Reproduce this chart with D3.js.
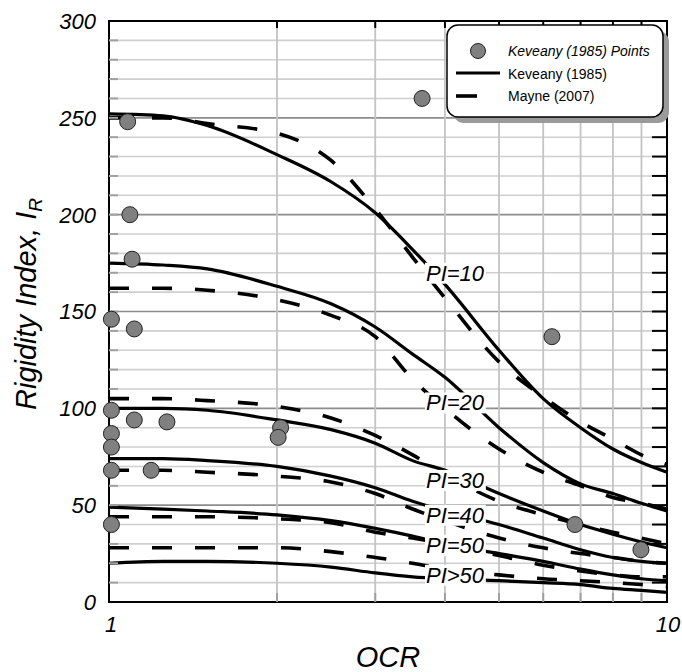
<!DOCTYPE html>
<html>
<head>
<meta charset="utf-8">
<script src="https://cdn.jsdelivr.net/npm/d3@7"></script>
<style>
  body { margin: 0; background: #fff; }
  text { font-family: Arial, "Liberation Sans", sans-serif; }
</style>
</head>
<body>
<script>
(function() {

    // data
    var ocr = [1, 1.25, 1.5, 2, 2.5, 3, 3.5, 4, 5, 6, 7, 8, 9, 10];

    var piNames = ['PI=10', 'PI=20', 'PI=30', 'PI=40', 'PI=50', 'PI>50'];

    var keveany10 = [252, 251, 246, 231, 217, 201, 182, 164, 130, 105, 90, 79, 72, 67];
    var keveany20 = [175, 174, 172, 163, 154, 142, 128, 116, 90, 72, 61, 56, 51, 47];
    var keveany30 = [100, 100, 99, 94, 89, 82, 73, 68, 56, 47, 40, 35, 31, 28];
    var keveany40 = [74, 74, 73, 70, 65, 59, 52, 47, 40, 33, 27, 23, 21, 20];
    var keveany50 = [49, 48, 47, 45, 42, 38, 34, 30, 25, 21, 17, 14, 12, 11];
    var keveany60 = [20, 21, 21, 20, 18, 15, 13, 12, 11, 10, 9, 7, 6, 5];

    var mayne10 = [250, 250, 247, 242, 228, 203, 178, 157, 124, 106, 93, 84, 76, 71];
    var mayne20 = [162, 162, 161, 156, 148, 137, 115, 100, 79, 67, 60, 54, 51, 48];
    var mayne30 = [105, 105, 104, 101, 95, 86, 76, 66, 52, 45, 40, 36, 33, 30];
    var mayne40 = [68, 68, 67, 65, 62, 56, 48, 42, 33, 28, 25, 23, 21, 20];
    var mayne50 = [44, 44, 44, 43, 41, 36, 33, 30, 24, 19, 16, 14, 13, 13];
    var mayne60 = [28, 28, 28, 28, 26, 23, 20, 17, 14, 12, 11, 10, 9, 8];

    // Keveany (1985) measured points
    var pointOcr = [1.08, 1.09, 1.10, 1.01, 1.11, 1.01, 1.11, 1.27, 1.01, 2.03, 2.01, 1.01, 1.01, 1.19, 1.01, 3.64, 6.22, 6.84, 8.98];
    var pointIr = [248, 200, 177, 146, 141, 99, 94, 93, 87, 90, 85, 80, 68, 68, 40, 260, 137, 40, 27];

    // where the PI labels sit
    var labelOcr = [4.17, 4.17, 4.17, 4.17, 4.17, 4.17];
    var labelIr = [170, 103, 63, 45, 29.5, 14];

    var yTicks = [0, 50, 100, 150, 200, 250, 300];
    var xTicks = [1, 10];

    var keveany = [keveany10, keveany20, keveany30, keveany40, keveany50, keveany60];
    var mayne = [mayne10, mayne20, mayne30, mayne40, mayne50, mayne60];

    var W = 682, H = 672;
    var left = 109, right = 667, top = 21, bottom = 602;

    var svg = d3.select('body').append('svg')
        .attr('width', W)
        .attr('height', H);

    var x = d3.scaleLog().domain([1, 10]).range([left, right]);
    var y = d3.scaleLinear().domain([0, 300]).range([bottom, top]);

    // grid: every 10 light, every 50 darker
    var minorY = d3.range(10, 300, 10);
    svg.append('g').selectAll('line')
        .data(minorY)
        .enter().append('line')
        .attr('x1', left).attr('x2', right)
        .attr('y1', function(d) { return y(d); })
        .attr('y2', function(d) { return y(d); })
        .attr('stroke', function(d) { return d % 50 === 0 ? '#8c8c8c' : '#cfcfcf'; })
        .attr('stroke-width', 1.6);

    var minorX = d3.range(2, 10);
    svg.append('g').selectAll('line')
        .data(minorX)
        .enter().append('line')
        .attr('y1', top).attr('y2', bottom)
        .attr('x1', function(d) { return x(d); })
        .attr('x2', function(d) { return x(d); })
        .attr('stroke', '#c4c4c4')
        .attr('stroke-width', 1.8);

    var line = d3.line()
        .x(function(d) { return x(d[0]); })
        .y(function(d) { return y(d[1]); })
        .curve(d3.curveMonotoneX);

    function pairs(vals) {
        return ocr.map(function(o, i) { return [o, vals[i]]; });
    }

    // Mayne (2007) dashed curves
    svg.append('g').selectAll('path')
        .data(mayne)
        .enter().append('path')
        .attr('d', function(d) { return line(pairs(d)); })
        .attr('fill', 'none')
        .attr('stroke', '#000')
        .attr('stroke-width', 3.6)
        .attr('stroke-dasharray', '20,23');

    // Keveany (1985) solid curves
    svg.append('g').selectAll('path')
        .data(keveany)
        .enter().append('path')
        .attr('d', function(d) { return line(pairs(d)); })
        .attr('fill', 'none')
        .attr('stroke', '#000')
        .attr('stroke-width', 3.2);

    // PI labels with white boxes
    var labels = svg.append('g').selectAll('g')
        .data(piNames)
        .enter().append('g');

    labels.append('rect').attr('fill', '#fff');

    labels.append('text')
        .attr('x', function(d, i) { return x(labelOcr[i]); })
        .attr('y', function(d, i) { return y(labelIr[i]); })
        .attr('dy', '0.36em')
        .attr('text-anchor', 'middle')
        .attr('font-size', 22)
        .attr('font-style', 'italic')
        .text(function(d) { return d; });

    labels.each(function() {
        var g = d3.select(this);
        var b = g.select('text').node().getBBox();
        g.select('rect')
            .attr('x', b.x - 1).attr('y', b.y + 2)
            .attr('width', b.width + 2).attr('height', b.height - 4);
    });

    // frame
    svg.append('rect')
        .attr('x', left).attr('y', top)
        .attr('width', right - left).attr('height', bottom - top)
        .attr('fill', 'none')
        .attr('stroke', '#000')
        .attr('stroke-width', 2);

    // ticks: right side black every 10, left side grey
    svg.append('g').selectAll('line')
        .data(minorY)
        .enter().append('line')
        .attr('x1', right - 15).attr('x2', right)
        .attr('y1', function(d) { return y(d); })
        .attr('y2', function(d) { return y(d); })
        .attr('stroke', '#000')
        .attr('stroke-width', 2);

    svg.append('g').selectAll('line')
        .data(minorY)
        .enter().append('line')
        .attr('x1', left).attr('x2', left + 9)
        .attr('y1', function(d) { return y(d); })
        .attr('y2', function(d) { return y(d); })
        .attr('stroke', '#a0a0a0')
        .attr('stroke-width', 2);

    svg.append('g').selectAll('line')
        .data(minorX)
        .enter().append('line')
        .attr('x1', function(d) { return x(d); })
        .attr('x2', function(d) { return x(d); })
        .attr('y1', top).attr('y2', top + 7)
        .attr('stroke', '#000')
        .attr('stroke-width', 2);

    svg.append('g').selectAll('line')
        .data(minorX)
        .enter().append('line')
        .attr('x1', function(d) { return x(d); })
        .attr('x2', function(d) { return x(d); })
        .attr('y1', bottom - 9).attr('y2', bottom)
        .attr('stroke', '#a0a0a0')
        .attr('stroke-width', 2);

    // points
    svg.append('g').selectAll('circle')
        .data(pointOcr)
        .enter().append('circle')
        .attr('cx', function(d) { return x(d); })
        .attr('cy', function(d, i) { return y(pointIr[i]); })
        .attr('r', 8)
        .attr('fill', '#808080')
        .attr('stroke', '#222')
        .attr('stroke-width', 1);

    // tick labels
    svg.append('g').selectAll('text')
        .data(yTicks)
        .enter().append('text')
        .attr('x', 96)
        .attr('y', function(d) { return y(d); })
        .attr('dy', '0.36em')
        .attr('text-anchor', 'end')
        .attr('font-size', 22)
        .attr('font-style', 'italic')
        .text(function(d) { return d; });

    svg.append('g').selectAll('text')
        .data(xTicks)
        .enter().append('text')
        .attr('x', function(d, i) { return x(d) + (i === 0 ? 2 : 1); })
        .attr('y', 632)
        .attr('text-anchor', 'middle')
        .attr('font-size', 22)
        .attr('font-style', 'italic')
        .text(function(d) { return d; });

    // axis titles
    svg.append('text')
        .attr('x', (left + right) / 2)
        .attr('y', 667)
        .attr('text-anchor', 'middle')
        .attr('font-size', 29)
        .attr('font-style', 'italic')
        .text('OCR');

    var yTitle = svg.append('text')
        .attr('transform', 'translate(36,' + 304 + ') rotate(-90)')
        .attr('text-anchor', 'middle')
        .attr('font-size', 29)
        .attr('font-style', 'italic');
    yTitle.append('tspan').text('Rigidity Index, I');
    yTitle.append('tspan').attr('font-size', 19).attr('dy', 6).text('R');

    // legend with shadow
    var lg = svg.append('g').attr('transform', 'translate(447,25)');
    lg.append('rect')
        .attr('x', 6).attr('y', 6)
        .attr('width', 216).attr('height', 92)
        .attr('rx', 11)
        .attr('fill', '#9a9a9a');
    lg.append('rect')
        .attr('width', 216).attr('height', 92)
        .attr('rx', 11)
        .attr('fill', '#fff')
        .attr('stroke', '#000')
        .attr('stroke-width', 1.5);

    lg.append('circle')
        .attr('cx', 31).attr('cy', 26).attr('r', 7.5)
        .attr('fill', '#808080').attr('stroke', '#222');
    lg.append('line')
        .attr('x1', 9).attr('x2', 53).attr('y1', 48).attr('y2', 48)
        .attr('stroke', '#000').attr('stroke-width', 3.2);
    lg.append('line')
        .attr('x1', 9).attr('x2', 30).attr('y1', 71).attr('y2', 71)
        .attr('stroke', '#000').attr('stroke-width', 3.6);

    var legendText = ['Keveany (1985) Points', 'Keveany (1985)', 'Mayne (2007)'];
    lg.selectAll('text')
        .data(legendText)
        .enter().append('text')
        .attr('x', 61)
        .attr('y', function(d, i) { return 26 + i * 22.5; })
        .attr('dy', '0.36em')
        .attr('font-size', 14)
        .attr('font-style', function(d, i) { return i === 0 ? 'italic' : 'normal'; })
        .text(function(d) { return d; });

})();
</script>
</body>
</html>
